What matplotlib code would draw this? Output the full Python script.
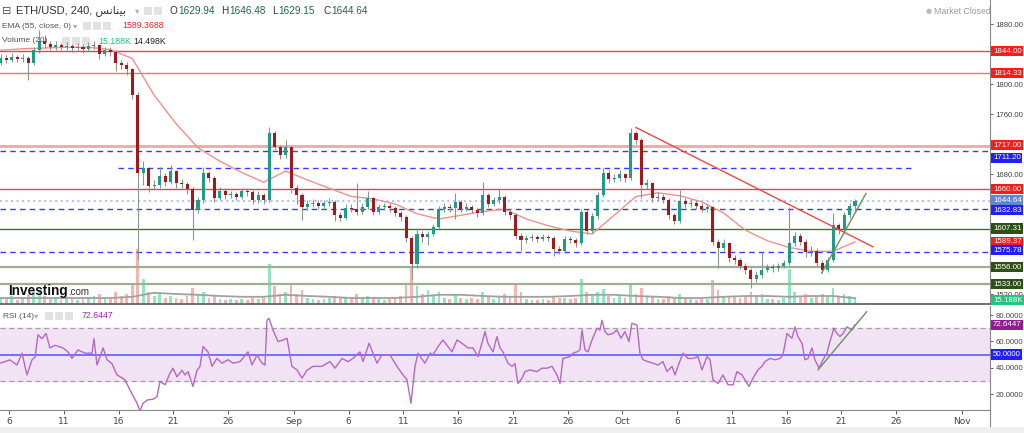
import numpy as np
import matplotlib.pyplot as plt

W, H = 1024, 433
plt.rcParams['font.family'] = ['Liberation Sans', 'DejaVu Sans']

# 12h candles (days since Aug 1, first candle at 4.25)
first_open = 1828
closes = [1835, 1832, 1836, 1833, 1835, 1828, 1845, 1857, 1853, 1850,
          1852, 1849, 1851, 1848, 1850, 1847, 1851, 1852, 1840, 1846,
          1843, 1828, 1826, 1820, 1785, 1681, 1688, 1664, 1666, 1678,
          1670, 1684, 1668, 1667, 1660, 1632, 1645, 1682, 1675, 1648,
          1658, 1652, 1653, 1650, 1657, 1656, 1645, 1652, 1645, 1735,
          1716, 1705, 1716, 1662, 1652, 1636, 1640, 1642, 1638, 1641,
          1643, 1626, 1622, 1635, 1634, 1630, 1636, 1648, 1630, 1636,
          1637, 1635, 1628, 1623, 1595, 1560, 1600, 1596, 1600, 1610,
          1633, 1636, 1635, 1643, 1634, 1636, 1632, 1628, 1652, 1640,
          1645, 1650, 1630, 1626, 1598, 1592, 1595, 1596, 1594, 1596,
          1595, 1580, 1578, 1593, 1592, 1588, 1630, 1604, 1624, 1652,
          1682, 1673, 1675, 1680, 1675, 1735, 1726, 1666, 1668, 1648,
          1650, 1646, 1625, 1618, 1644, 1640, 1642, 1638, 1634, 1636,
          1590, 1582, 1588, 1568, 1565, 1558, 1552, 1540, 1546, 1552,
          1556, 1555, 1558, 1562, 1588, 1598, 1590, 1576, 1578, 1562,
          1552, 1566, 1612, 1605, 1625, 1638, 1644.64]
highs = [1840, 1839, 1841, 1839, 1840, 1838, 1849, 1872, 1866, 1858,
         1857, 1855, 1856, 1854, 1855, 1853, 1856, 1858, 1854, 1850,
         1849, 1845, 1832, 1829, 1822, 1789, 1697, 1690, 1672, 1690,
         1681, 1692, 1686, 1673, 1670, 1663, 1650, 1690, 1684, 1678,
         1663, 1661, 1658, 1656, 1662, 1661, 1659, 1657, 1655, 1743,
         1738, 1719, 1725, 1718, 1665, 1655, 1645, 1647, 1645, 1646,
         1648, 1645, 1630, 1640, 1640, 1668, 1641, 1658, 1650, 1640,
         1642, 1641, 1638, 1631, 1626, 1598, 1608, 1604, 1604, 1614,
         1638, 1641, 1640, 1655, 1646, 1641, 1639, 1635, 1669, 1655,
         1650, 1660, 1652, 1633, 1628, 1601, 1599, 1600, 1599, 1600,
         1599, 1597, 1584, 1597, 1597, 1595, 1634, 1632, 1628, 1656,
         1688, 1685, 1680, 1686, 1682, 1741, 1738, 1728, 1674, 1670,
         1656, 1654, 1648, 1628, 1659, 1648, 1647, 1645, 1641, 1640,
         1638, 1594, 1594, 1590, 1572, 1568, 1561, 1555, 1551, 1576,
         1560, 1560, 1562, 1566, 1636, 1603, 1601, 1593, 1584, 1581,
         1566, 1570, 1628, 1615, 1630, 1642, 1646.48]
lows = [1825, 1828, 1829, 1829, 1830, 1805, 1825, 1842, 1848, 1845,
        1846, 1845, 1846, 1843, 1845, 1842, 1844, 1847, 1833, 1837,
        1838, 1818, 1820, 1812, 1780, 1565, 1666, 1656, 1660, 1662,
        1664, 1667, 1662, 1661, 1654, 1592, 1628, 1641, 1669, 1643,
        1645, 1647, 1648, 1645, 1647, 1651, 1640, 1642, 1640, 1643,
        1712, 1700, 1702, 1655, 1640, 1619, 1632, 1636, 1633, 1634,
        1637, 1617, 1617, 1619, 1629, 1626, 1627, 1633, 1626, 1627,
        1632, 1630, 1624, 1618, 1590, 1539, 1555, 1590, 1585, 1597,
        1606, 1630, 1630, 1620, 1630, 1631, 1628, 1623, 1625, 1636,
        1637, 1642, 1626, 1620, 1593, 1578, 1588, 1591, 1590, 1591,
        1591, 1571, 1573, 1575, 1588, 1583, 1585, 1600, 1601, 1620,
        1649, 1668, 1669, 1671, 1669, 1672, 1720, 1648, 1660, 1643,
        1644, 1641, 1620, 1613, 1615, 1635, 1636, 1633, 1630, 1630,
        1585, 1555, 1578, 1563, 1560, 1553, 1547, 1528, 1536, 1542,
        1549, 1550, 1551, 1555, 1559, 1584, 1585, 1570, 1571, 1557,
        1548, 1549, 1563, 1600, 1602, 1622, 1629.15]
volumes_k = [15, 13, 20, 10, 15, 25, 30, 35, 20, 13, 15, 10, 13, 15, 10, 13, 18, 20, 25, 15, 13, 30, 20, 25, 50,
             138, 63, 30, 20, 25, 15, 20, 15, 13, 20, 40, 25, 30, 15, 23, 13, 10, 13, 10, 13, 10, 15, 13, 15,
             100, 45, 25, 30, 50, 25, 35, 15, 13, 10, 13, 15, 20, 15, 15, 13, 25, 15, 20, 18, 13, 10, 13, 15, 20,
             50, 90, 45, 25, 35, 20, 30, 15, 13, 25, 15, 13, 15, 13, 30, 20, 13, 20, 25, 20, 50, 30, 13, 10, 10,
             13, 10, 20, 15, 15, 13, 15, 63, 30, 25, 30, 38, 20, 15, 20, 15, 50, 25, 40, 20, 20, 13, 13, 20, 15,
             25, 15, 13, 10, 13, 13, 60, 35, 20, 20, 18, 15, 20, 30, 20, 25, 13, 13, 10, 15, 88, 30, 20, 25, 15,
             20, 25, 20, 40, 20, 25, 20, 15.188]
# EMA(55) and volume average, read every 4th candle
ema_vals = [1845, 1847, 1848, 1849, 1849, 1846, 1834, 1785, 1747, 1715,
            1697, 1682, 1669, 1684, 1672, 1661, 1650, 1647, 1640, 1627,
            1620, 1625, 1630, 1633, 1620, 1611, 1604, 1600, 1625, 1650,
            1655, 1651, 1643, 1628, 1605, 1591, 1582, 1577, 1577, 1589.37]
vol_ma_k = [15, 15, 15, 15, 15, 15, 18, 28, 25, 23, 20, 18, 18, 23, 20, 18, 15, 15, 15, 18,
            23, 23, 20, 18, 18, 18, 20, 23, 23, 20, 18, 15, 15, 18, 20, 20, 18, 20, 20, 14.498]

rsi_days = [4.17, 5.08, 5.72, 6.18, 6.63, 7.09, 7.37, 7.64, 8.00, 8.37, 8.73, 9.19, 9.92, 10.38, 10.74,
            11.29, 11.93, 12.57, 12.75, 13.03, 13.58, 13.94, 14.40, 14.85, 15.58, 16.04, 16.68, 16.95,
            17.23, 17.68, 18.14, 18.51, 18.78, 19.24, 19.69, 19.97, 20.33, 20.79, 21.06, 21.34, 21.79,
            22.16, 22.43, 22.71, 23.16, 23.53, 23.98, 24.44, 24.99, 25.45, 26.09, 26.82, 27.18, 27.64,
            28.10, 28.37, 28.55, 28.73, 29.10, 29.56, 30.01, 30.38, 30.83, 31.29, 31.75, 32.20, 32.75,
            33.57, 34.30, 34.76, 35.40, 35.95, 36.40, 37.04, 37.32, 37.87, 38.23, 38.60, 39.05, 39.78,
            40.42, 40.97, 41.34, 41.70, 42.07, 42.34, 42.98, 43.44, 43.71, 44.17, 44.62, 45.08, 45.45,
            45.90, 46.36, 46.91, 47.36, 47.82, 48.18, 48.46, 48.73, 49.19, 49.55, 49.83, 50.10, 50.56,
            50.92, 51.20, 51.47, 51.84, 52.11, 52.57, 53.21, 53.66, 54.12, 54.58, 55.03, 55.31, 55.58,
            56.22, 56.50, 56.86, 57.13, 57.32, 57.59, 57.86, 58.23, 58.69, 58.96, 59.14, 59.42, 59.69,
            60.15, 60.51, 60.88, 61.24, 61.61, 61.88, 62.34, 62.61, 62.89, 63.34, 63.80, 64.26, 64.71,
            65.08, 65.54, 65.81, 66.08, 66.54, 67.00, 67.45, 67.91, 68.28, 68.73, 69.01, 69.28, 69.74,
            70.19, 70.65, 71.11, 71.47, 71.93, 72.20, 72.57, 72.93, 73.39, 73.75, 74.03, 74.48, 74.94,
            75.40, 75.67, 76.04, 76.49, 76.77, 77.04, 77.41, 77.68, 77.96, 78.32, 78.59, 78.96, 79.33,
            79.69, 79.96, 80.33, 80.60, 80.88, 81.15, 81.52, 81.97, 82.25]
rsi_vals = [43.4, 45.9, 42, 51, 34.5, 46, 48, 65, 62, 66, 55, 57, 55, 52, 47,
            53.5, 51, 51, 62, 42, 55, 46, 43, 34.5, 30.8, 23, 13, 7,
            13, 15.6, 16, 18, 29.5, 27, 35.8, 39.6, 33, 38, 34.5, 37, 25.7,
            38, 41, 56, 52, 41, 47, 43.4, 46, 43.4, 44.6, 52, 42, 49.7,
            43.4, 42, 76, 77.5, 68.6, 59.8, 61, 62.3, 41, 38.3, 32, 38, 41,
            41, 44.6, 39.6, 47, 44.6, 47, 52, 44.6, 58.5, 51, 43.4, 49.7, 49.7,
            41, 34.5, 30.8, 13, 41, 51, 43.4, 51, 49.7, 56, 61, 56, 52,
            61, 58.5, 55, 55, 48.4, 58.5, 67.4, 58.5, 52, 63.6, 55, 52, 43.4,
            41, 43, 28, 32, 37, 38.3, 37, 39.6, 39.6, 41, 34.5, 28, 47,
            48.4, 51, 52, 53.5, 68.6, 53.5, 52, 61, 70, 68.6, 76, 67.4, 65,
            66, 68.6, 62.3, 67.4, 59.8, 73.7, 72.4, 51, 46, 44.6, 43.4, 42, 44.6,
            37, 41, 34.5, 41, 51, 47, 47, 48.4, 38.3, 48.4, 46, 30.8, 28,
            34.5, 27, 27, 37, 34.5, 30.8, 25.7, 32, 38.3, 41, 44.6, 47, 46,
            47, 49.7, 66, 62.3, 71, 63.6, 58.5, 46, 47, 55, 46, 39.6, 46,
            51, 59.8, 70, 66, 63.6, 66, 71, 68.6, 72.6447]

# horizontal levels
red_levels = [1844.00, 1814.33, 1660.00]
zone_level = 1717.00
blue_dashed = [1711.20, 1632.83, 1575.78]
short_dashed = 1688.0
green_levels = [1607.31, 1556.00, 1533.00]
last_price = 1644.64
# trend lines (day, value)
down_trend = ([62.25, 83.89], [1742, 1583])
up_trend = ([79.21, 83.25], [1548, 1654])
rsi_trend = ([78.87, 83.32], [38.3, 82.5])

tick_days = [5, 10, 15, 20, 25, 31, 36, 41, 46, 51, 56, 61, 66, 71, 76, 81, 86, 92]
tick_names = ['6', '11', '16', '21', '26', 'Sep', '6', '11', '16', '21', '26', 'Oct',
              '6', '11', '16', '21', '26', 'Nov']

RED = '#ff1a1a'
BLUE = '#1f1fff'
DKGREEN = '#2d5016'
UP = '#1f9c86'
DOWN = '#a3191b'

t = 4.25 + 0.5 * np.arange(len(closes))
opens = [first_open] + closes[:-1]
xmin, xmax = 4.169, 94.58

fig = plt.figure(figsize=(W / 100, H / 100), dpi=100)
ax = fig.add_axes([0, 1 - 304 / H, 990 / W, 304 / H])
axr = fig.add_axes([0, 1 - 410 / H, 990 / W, 104 / H])

# volume overlay
axv = ax.twinx()
axv.set_ylim(0, 760)
axv.set_xlim(xmin, xmax)
axv.axis('off')
up = np.array(closes) >= np.array(opens)
axv.bar(t, volumes_k, width=0.25, color=np.where(up, '#8fe6c0', '#f9b3ae'), zorder=1)
axv.plot(t[::4], vol_ma_k, color='#a0a0a0', lw=1.3, zorder=2)
ax.set_zorder(axv.get_zorder() + 1)
ax.patch.set_visible(False)

# levels
for p in red_levels:
    ax.axhline(p, color='#f04040' if p != 1814.33 else '#f27070', lw=1, zorder=2)
ax.axhline(zone_level, color='#f6a5a5', lw=2, zorder=2)
for p in blue_dashed:
    ax.axhline(p, color='#3a3aff', lw=1, ls=(0, (4, 3)), zorder=2)
ax.plot([14.95, 87.45], [short_dashed, short_dashed], color='#3a3aff', lw=1, ls=(0, (4, 3)), zorder=2)
ax.axhline(last_price, color='#b0c4f0', lw=1.5, ls=':', zorder=2)
ax.axhline(green_levels[0], color='#4a6b3a', lw=1, zorder=2)
for p in green_levels[1:]:
    ax.axhline(p, color='#9fae92', lw=1.6, zorder=2)

# EMA
ax.plot(t[::4], ema_vals, color='#f29090', lw=1, zorder=3)

# candles
for ti, o, c, hi, lo in zip(t, opens, closes, highs, lows):
    col = UP if c >= o else DOWN
    ax.vlines(ti, lo, hi, color='#87978d', lw=0.8, zorder=4)
    ax.bar(ti, max(abs(c - o), 0.8), bottom=min(o, c), width=0.28, color=col, zorder=5)

ax.plot(*down_trend, color='#f04545', lw=1, zorder=6)
ax.plot(*up_trend, color='#6f8f5f', lw=1, zorder=6)

ax.set_xlim(xmin, xmax)
ax.set_ylim(1506.7, 1912)
ax.set_xticks([])
ax.yaxis.tick_right()
ax.set_yticks([1520, 1680, 1760, 1800, 1880])
ax.set_yticklabels(['%.2f' % v for v in [1520, 1680, 1760, 1800, 1880]])
ax.tick_params(axis='y', labelsize=5.6, colors='#444', length=2.5, pad=1.5, width=0.6)
for s in ['top', 'left']:
    ax.spines[s].set_visible(False)
ax.spines['right'].set_color('#888')
ax.spines['bottom'].set_color('#666')
ax.spines['bottom'].set_linewidth(1.3)


def tag(a, y, text, color, dy=0):
    a.annotate(text, xy=(1, y), xycoords=('axes fraction', 'data'), xytext=(3, dy),
               textcoords='offset pixels', ha='left', va='center', fontsize=5.7, color='white',
               bbox=dict(boxstyle='square,pad=0.2', fc=color, ec='none'),
               annotation_clip=False, zorder=10)


tag(ax, 1844.00, '1844.00', RED)
tag(ax, 1814.33, '1814.33', RED)
tag(ax, 1717.00, '1717.00', RED, 1)
tag(ax, 1711.20, '1711.20', BLUE, -7)
tag(ax, 1660.00, '1660.00', RED)
tag(ax, 1644.64, '1644.64', '#5d86d6')
tag(ax, 1632.83, '1632.83', BLUE, -1)
tag(ax, 1607.31, '1607.31', DKGREEN)
tag(ax, 1589.37, '1589.37', RED)
tag(ax, 1575.78, '1575.78', BLUE, 2)
tag(ax, 1556.00, '1556.00', DKGREEN)
tag(ax, 1533.00, '1533.00', DKGREEN)
tag(ax, 1512.0, '15.188K', '#22c47e')

# RSI panel
axr.axhspan(30, 70, color='#f1e3f3', zorder=0)
axr.axhline(70, color='#a0a0a0', lw=0.9, ls=(0, (4, 3)))
axr.axhline(30, color='#a0a0a0', lw=0.9, ls=(0, (4, 3)))
axr.axhline(50, color='#5050ff', lw=1.1)
axr.plot(rsi_days, rsi_vals, color='#b767c4', lw=1)
axr.plot(*rsi_trend, color='#6f8f5f', lw=1)
axr.set_xlim(xmin, xmax)
axr.set_ylim(7.85, 86.84)
axr.yaxis.tick_right()
axr.set_yticks([20, 40, 60, 80])
axr.set_yticklabels(['%.4f' % v for v in [20, 40, 60, 80]])
axr.tick_params(axis='y', labelsize=5.6, colors='#444', length=2.5, pad=1.5, width=0.6)
axr.set_xticks(tick_days)
axr.set_xticklabels(tick_names, family=['Liberation Sans Narrow', 'DejaVu Sans'])
axr.tick_params(axis='x', labelsize=6.5, colors='#444', length=3, pad=2, width=0.6)
for s in ['top', 'left']:
    axr.spines[s].set_visible(False)
axr.spines['right'].set_color('#888')
axr.spines['bottom'].set_color('#888')
tag(axr, 72.6447, '72.6447', '#8e1f8c')
tag(axr, 50.0, '50.0000', BLUE)

fig.add_artist(plt.Line2D([990 / W, 990 / W], [1 - 426 / H, 1 - 410 / H], color='#888', lw=0.8))
fig.add_artist(plt.Rectangle((0, 0), 1, 6 / H, color='#efefef', lw=0))


def px(x, y):
    return x / W, 1 - y / H


def icons(x0, y0, n):
    for k in range(n):
        fig.add_artist(plt.Rectangle(px(x0 + k * 10, y0 + 4), 8 / W, 8 / H,
                                     color='#e2e2e2', lw=0))


# header texts
fig.text(*px(2, 11), '\u229f', fontsize=8, color='#555', va='center', family=['DejaVu Sans'])
fig.text(*px(16, 11), 'ETH/USD, 240, \ufeb2\ufee7\ufe8e\ufee8\ufef4\ufe91', fontsize=8,
         color='#333', va='center')
fig.text(*px(135, 11), '\u25be', fontsize=6, color='#aaa', va='center', family=['DejaVu Sans'])
icons(144, 11, 2)
x0 = 170
for lab, val, gap in [('O', '1629.94', 8), ('H', '1646.48', 8), ('L', '1629.15', 6), ('C', '1644.64', 8)]:
    fig.text(*px(x0, 11), lab, fontsize=7.2, color='#333', va='center')
    fig.text(*px(x0 + gap, 11), val, fontsize=7.2, color='#1e6b45', va='center')
    x0 += 51
fig.text(*px(2, 26), 'EMA (55, close, 0)', fontsize=6, color='#555', va='center')
fig.text(*px(73, 26), '\u25be', fontsize=6, color='#aaa', va='center', family=['DejaVu Sans'])
icons(83, 26, 3)
fig.text(*px(122, 26), '1589.3688', fontsize=6.3, color='#f02020', va='center')
fig.text(*px(2, 41), 'Volume (20)', fontsize=6, color='#555', va='center')
icons(62, 41, 3)
fig.text(*px(98, 41), '15.188K', fontsize=6.3, color='#1fbf7a', va='center')
fig.text(*px(133, 41), '14.498K', fontsize=6.3, color='#222', va='center')
fig.text(*px(926, 11), '\u25cf', fontsize=5, color='#bbb', va='center', family=['DejaVu Sans'])
fig.text(*px(934, 11), 'Market Closed', fontsize=6.3, color='#999', va='center')
fig.text(*px(8, 291), 'Investing', fontsize=9.8, weight='bold', color='#111', va='center')
fig.text(*px(68, 292), '.com', fontsize=7, color='#333', va='center')
fig.text(*px(3, 316), 'RSI (14)', fontsize=6, color='#555', va='center')
fig.text(*px(34, 316), '\u25be', fontsize=6, color='#aaa', va='center', family=['DejaVu Sans'])
icons(45, 316, 3)
fig.text(*px(82, 316), '72.6447', fontsize=6.3, color='#9c27b0', va='center')

fig.savefig('out.png', dpi=100)
